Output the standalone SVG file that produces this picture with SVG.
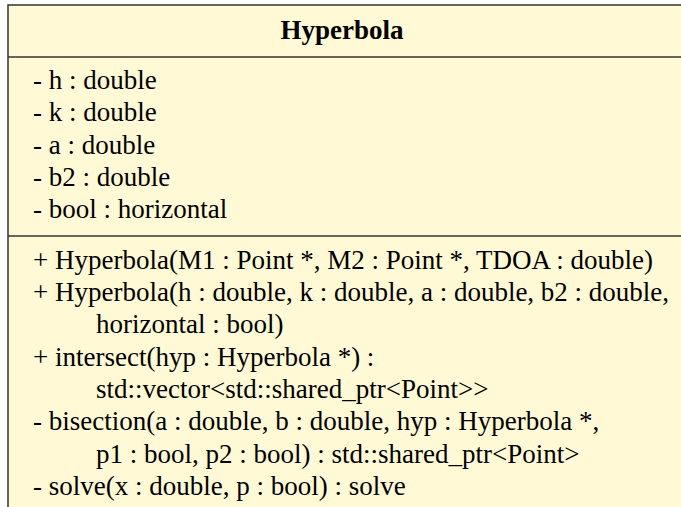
<svg xmlns="http://www.w3.org/2000/svg" width="681" height="507" viewBox="0 0 681 507">
<style>
.t{font-family:"Liberation Serif","Times New Roman","DejaVu Serif",serif;font-size:27px;fill:#000}
.title{font-family:"Liberation Serif","Times New Roman","DejaVu Serif",serif;font-size:27px;font-weight:bold;fill:#000}
.sep{stroke:#333;stroke-width:1.5}
</style>
<rect width="681" height="507" fill="#ffffff"/>
<g id="Hyperbola">
<rect x="8" y="5" width="720" height="560" fill="#FFF9D6" stroke="#333" stroke-width="1.5"/>
<text class="title" x="342" y="39" text-anchor="middle">Hyperbola</text>
<line class="sep" x1="8" y1="57" x2="681" y2="57"/>
<text class="t" x="33" y="89">- h : double</text>
<text class="t" x="33" y="121">- k : double</text>
<text class="t" x="33" y="154">- a : double</text>
<text class="t" x="33" y="186">- b2 : double</text>
<text class="t" x="33" y="218">- bool : horizontal</text>
<line class="sep" x1="8" y1="236" x2="681" y2="236"/>
<text class="t" x="33" y="269">+ Hyperbola(M1 : Point *, M2 : Point *, TDOA : double)</text>
<text class="t" x="33" y="301">+ Hyperbola(h : double, k : double, a : double, b2 : double,</text>
<text class="t" x="96" y="333">horizontal : bool)</text>
<text class="t" x="33" y="366">+ intersect(hyp : Hyperbola *) :</text>
<text class="t" x="96" y="398">std::vector&lt;std::shared_ptr&lt;Point&gt;&gt;</text>
<text class="t" x="33" y="430">- bisection(a : double, b : double, hyp : Hyperbola *,</text>
<text class="t" x="96" y="463">p1 : bool, p2 : bool) : std::shared_ptr&lt;Point&gt;</text>
<text class="t" x="33" y="495">- solve(x : double, p : bool) : solve</text>
</g>
</svg>
